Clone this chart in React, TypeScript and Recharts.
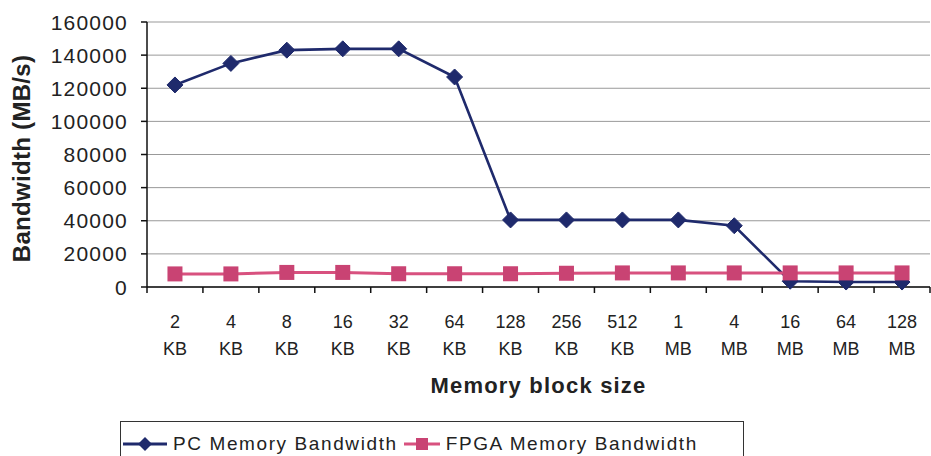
import {
  LineChart,
  Line,
  XAxis,
  YAxis,
  CartesianGrid,
  Legend,
} from "recharts";

const blockSizes = ["2 KB", "4 KB", "8 KB", "16 KB", "32 KB", "64 KB", "128 KB", "256 KB", "512 KB", "1 MB", "4 MB", "16 MB", "64 MB", "128 MB"];
const pcBandwidth = [122000, 135000, 143000, 143800, 143800, 126800, 40500, 40500, 40500, 40500, 37000, 3500, 3000, 3000];
const fpgaBandwidth = [7900, 7900, 8800, 8800, 8000, 8000, 8000, 8300, 8500, 8500, 8500, 8500, 8500, 8500];
const yTicks = [0, 20000, 40000, 60000, 80000, 100000, 120000, 140000, 160000];

const chartData = blockSizes.map((cat, i) => ({
  cat,
  pc: pcBandwidth[i],
  fpga: fpgaBandwidth[i],
}));

const FONT = "'Liberation Sans', Arial, sans-serif";
const NAVY = "#1f2a6c";
const PINK = "#d8517f";
const PINK_DARK = "#c94373";

const WIDTH = 931;
const HEIGHT = 456;
const PLOT_LEFT = 147;
const PLOT_RIGHT = 930;
const X_AXIS_H = 112;
const BAND = (PLOT_RIGHT - PLOT_LEFT) / blockSizes.length;

const Diamond = (props: any) => {
  const { cx, cy } = props;
  if (cx == null || cy == null) return null;
  const r = 8;
  return (
    <polygon
      points={`${cx},${cy - r} ${cx + r},${cy} ${cx},${cy + r} ${cx - r},${cy}`}
      fill={NAVY}
      stroke={NAVY}
      strokeWidth={1}
    />
  );
};

const Square = (props: any) => {
  const { cx, cy } = props;
  if (cx == null || cy == null) return null;
  const s = 15;
  return <rect x={cx - s / 2} y={cy - s / 2} width={s} height={s} fill={PINK_DARK} />;
};

const XTick = (props: any) => {
  const { x, y, payload, index } = props;
  const [num, unit] = String(payload.value).split(" ");
  const last = index === blockSizes.length - 1;
  return (
    <g>
      <line x1={x - BAND / 2} x2={x - BAND / 2} y1={y} y2={y + 6} stroke="#111" strokeWidth={1.5} />
      {last && <line x1={x + BAND / 2} x2={x + BAND / 2} y1={y} y2={y + 6} stroke="#111" strokeWidth={1.5} />}
      <text x={x} y={y + 41} textAnchor="middle" fontSize={18} fill="#222" fontFamily={FONT}>
        {num}
      </text>
      <text x={x} y={y + 68} textAnchor="middle" fontSize={18} fill="#222" fontFamily={FONT}>
        {unit}
      </text>
    </g>
  );
};

const YTick = (props: any) => {
  const { x, y, payload } = props;
  return (
    <text x={x} y={y} dy="0.36em" textAnchor="end" fontSize={21} fill="#222" fontFamily={FONT} letterSpacing={1.2}>
      {payload.value}
    </text>
  );
};

const LegendBox = () => (
  <div
    style={{
      borderTop: "1.5px solid #333",
      borderLeft: "1.5px solid #333",
      borderRight: "1.5px solid #333",
      height: 40,
      width: 622,
      display: "flex",
      alignItems: "center",
      fontFamily: FONT,
      fontSize: 19,
      letterSpacing: 1.6,
      color: "#222",
      paddingTop: 2,
    }}
  >
    <svg width={46} height={20} style={{ marginLeft: 2 }}>
      <line x1={0} x2={44} y1={10} y2={10} stroke={NAVY} strokeWidth={3} />
      <polygon points="22,3 29,10 22,17 15,10" fill={NAVY} />
    </svg>
    <span style={{ marginLeft: 4 }}>PC Memory Bandwidth</span>
    <svg width={36} height={20} style={{ marginLeft: 6 }}>
      <line x1={0} x2={36} y1={10} y2={10} stroke={PINK} strokeWidth={3} />
      <rect x={12} y={4} width={12} height={12} fill={PINK_DARK} />
    </svg>
    <span style={{ marginLeft: 6 }}>FPGA Memory Bandwidth</span>
  </div>
);

export default function App() {
  return (
    <div style={{ position: "absolute", left: 0, top: 0, background: "#fff" }}>
      <LineChart
        width={WIDTH}
        height={HEIGHT}
        data={chartData}
        margin={{ top: 22, right: WIDTH - PLOT_RIGHT, left: 0, bottom: 169 - X_AXIS_H }}
      >
        <CartesianGrid vertical={false} stroke="#999" strokeWidth={1} />
        <XAxis
          dataKey="cat"
          interval={0}
          height={X_AXIS_H}
          padding={{ left: BAND / 2, right: BAND / 2 }}
          tickSize={0}
          tickMargin={0}
          tickLine={false}
          axisLine={{ stroke: "#111", strokeWidth: 1.5 }}
          tick={<XTick />}
          label={{
            content: (p: any) => {
              const vb = p.viewBox;
              return (
                <text
                  x={vb.x + vb.width / 2}
                  y={vb.y + 106}
                  textAnchor="middle"
                  fontSize={22}
                  fontWeight="bold"
                  fill="#222"
                  fontFamily={FONT}
                  letterSpacing={1.2}
                >
                  Memory block size
                </text>
              );
            },
          }}
        />
        <YAxis
          width={PLOT_LEFT}
          domain={[0, 160000]}
          ticks={yTicks}
          interval={0}
          tickSize={6}
          tickMargin={13}
          tickLine={{ stroke: "#111", strokeWidth: 1.5 }}
          axisLine={{ stroke: "#111", strokeWidth: 1.5 }}
          tick={<YTick />}
          label={{
            content: (p: any) => {
              const vb = p.viewBox;
              const cy = vb.y + vb.height / 2 + 4;
              return (
                <text
                  x={30}
                  y={cy}
                  transform={`rotate(-90 30 ${cy})`}
                  textAnchor="middle"
                  fontSize={24}
                  fontWeight="bold"
                  fill="#222"
                  fontFamily={FONT}
                  letterSpacing={0.3}
                >
                  Bandwidth (MB/s)
                </text>
              );
            },
          }}
        />
        <Legend
          layout="horizontal"
          verticalAlign="middle"
          align="center"
          content={<LegendBox />}
          wrapperStyle={{ top: 421, left: 120, width: "auto", height: "auto" }}
        />
        <Line
          type="linear"
          dataKey="pc"
          name="PC Memory Bandwidth"
          stroke={NAVY}
          strokeWidth={2.6}
          dot={<Diamond />}
          activeDot={false}
          isAnimationActive={false}
        />
        <Line
          type="linear"
          dataKey="fpga"
          name="FPGA Memory Bandwidth"
          stroke={PINK}
          strokeWidth={3}
          dot={<Square />}
          activeDot={false}
          isAnimationActive={false}
        />
      </LineChart>
    </div>
  );
}
